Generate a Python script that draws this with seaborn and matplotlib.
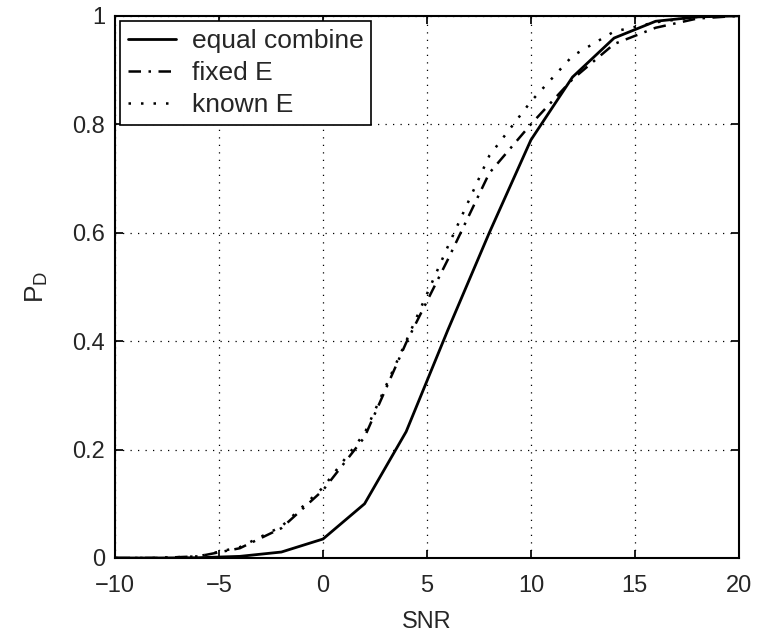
import matplotlib
matplotlib.use("Agg")
import matplotlib.pyplot as plt
import seaborn as sns
import pandas as pd

snr = [-10, -8, -6, -4, -2, 0, 2, 4, 6, 8, 10, 12, 14, 16, 18, 20]
equal_combine = [0.0, 0.0, 0.0005, 0.003, 0.011, 0.035, 0.10, 0.233, 0.42, 0.60, 0.771, 0.887, 0.959, 0.99, 0.998, 1.0]
fixed_E = [0.0, 0.0, 0.003, 0.018, 0.055, 0.125, 0.223, 0.397, 0.55, 0.71, 0.80, 0.883, 0.948, 0.978, 0.995, 1.0]
known_E = [0.0, 0.0, 0.003, 0.02, 0.058, 0.13, 0.23, 0.40, 0.574, 0.742, 0.842, 0.926, 0.971, 0.988, 0.998, 1.0]

labels = ["equal combine", "fixed E", "known E"]
styles = ["-", (0, (5, 3, 1, 3)), (0, (1, 4))]
widths = [2.0, 1.8, 1.8]

sns.set_theme(style="white")
plt.rcParams["font.family"] = ["Liberation Sans", "DejaVu Sans"]
plt.rcParams["mathtext.default"] = "regular"

fig = plt.figure(figsize=(7.57, 6.33), dpi=100)
ax = fig.add_axes([0.152, 0.1185, 0.824, 0.8565])

for vals, lab, ls, lw in zip([equal_combine, fixed_E, known_E], labels, styles, widths):
    df = pd.DataFrame({"SNR": snr, "PD": vals})
    sns.lineplot(data=df, x="SNR", y="PD", ax=ax, color="black", linestyle=ls,
                 linewidth=lw, label=lab)

ax.set_xlim(-10, 20)
ax.set_ylim(0, 1)
ax.set_xticks([-10, -5, 0, 5, 10, 15, 20])
ax.set_xticklabels(["\u221210", "\u22125", "0", "5", "10", "15", "20"])
ax.set_yticks([0, 0.2, 0.4, 0.6, 0.8, 1])
ax.set_yticklabels(["0", "0.2", "0.4", "0.6", "0.8", "1"])
ax.grid(True, color="black", linestyle=(0, (1, 5)), linewidth=0.9)
ax.tick_params(direction="in", length=6, labelsize=17, color="black",
               top=True, right=True, bottom=True, left=True)
ax.tick_params(axis="x", pad=12)
ax.tick_params(axis="y", pad=7)
for s in ax.spines.values():
    s.set_color("black")
    s.set_linewidth(1.5)
    s.set_visible(True)

ax.set_xlabel("SNR", fontsize=17, labelpad=10)
ax.set_ylabel("$P_D$", fontsize=19, labelpad=16)

leg = ax.legend(loc="upper left", fontsize=19, frameon=True, fancybox=False,
                framealpha=1, edgecolor="black", borderaxespad=0.2,
                handlelength=1.8, labelspacing=0.3, borderpad=0.3, handletextpad=0.6)
leg.get_frame().set_linewidth(1.2)

fig.savefig("out.png", dpi=100)
